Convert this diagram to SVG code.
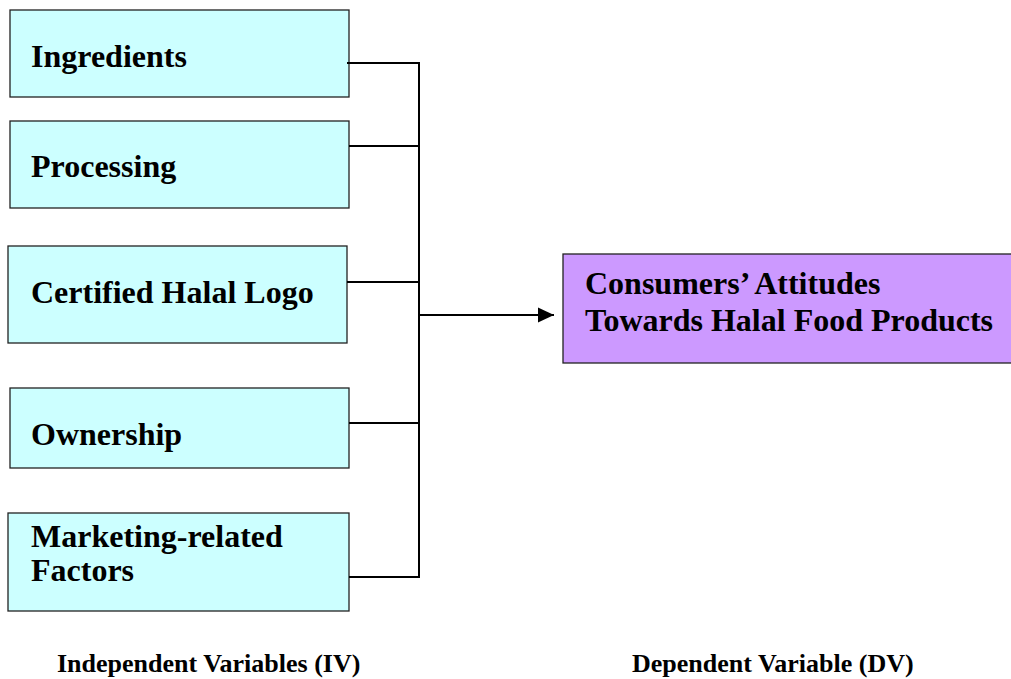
<svg xmlns="http://www.w3.org/2000/svg" width="1011" height="679" viewBox="0 0 1011 679">
  <style>
    .iv rect { fill: #ccffff; stroke: #222; stroke-width: 1.3; }
    .dv rect { fill: #cc99ff; stroke: #222; stroke-width: 1.3; }
    .lbl { font-family: "Liberation Serif", "Times New Roman", serif; font-weight: bold; font-size: 32px; fill: #000; }
    .cap { font-family: "Liberation Serif", "Times New Roman", serif; font-weight: bold; font-size: 26px; fill: #000; }
    .wire { fill: none; stroke: #000; stroke-width: 2; }
  </style>
  <defs>
    <marker id="arrow" markerWidth="16" markerHeight="16" refX="16" refY="7.5" orient="auto" markerUnits="userSpaceOnUse" viewBox="0 0 16 15">
      <path d="M0,0 L16,7.5 L0,15 z" fill="#000"/>
    </marker>
  </defs>
  <rect width="1011" height="679" fill="#fff"/>

  <g id="ingredients" class="iv">
    <rect x="10" y="10" width="339" height="87"/>
    <text class="lbl" x="31" y="67">Ingredients</text>
  </g>
  <g id="processing" class="iv">
    <rect x="10" y="121" width="339" height="87"/>
    <text class="lbl" x="31" y="177">Processing</text>
  </g>
  <g id="halal-logo" class="iv">
    <rect x="8" y="246" width="339" height="97"/>
    <text class="lbl" x="31" y="303">Certified Halal Logo</text>
  </g>
  <g id="ownership" class="iv">
    <rect x="10" y="388" width="339" height="80"/>
    <text class="lbl" x="31" y="445">Ownership</text>
  </g>
  <g id="marketing" class="iv">
    <rect x="8" y="513" width="341" height="98"/>
    <text class="lbl" x="31" y="547">Marketing-related</text>
    <text class="lbl" x="31" y="581">Factors</text>
  </g>

  <g id="attitudes" class="dv">
    <rect x="563" y="254" width="450" height="109"/>
    <text class="lbl" x="585" y="294">Consumers’ Attitudes</text>
    <text class="lbl" x="585" y="331">Towards Halal Food Products</text>
  </g>

  <g id="connectors">
    <path class="wire" d="M347,63 H419 V577 H349"/>
    <path class="wire" d="M349,146 H419"/>
    <path class="wire" d="M347,282 H419"/>
    <path class="wire" d="M349,423 H419"/>
    <path class="wire" d="M419,315 H554" marker-end="url(#arrow)"/>
  </g>

  <g id="captions">
    <text class="cap" x="57" y="672">Independent Variables (IV)</text>
    <text class="cap" x="632" y="672">Dependent Variable (DV)</text>
  </g>
</svg>
